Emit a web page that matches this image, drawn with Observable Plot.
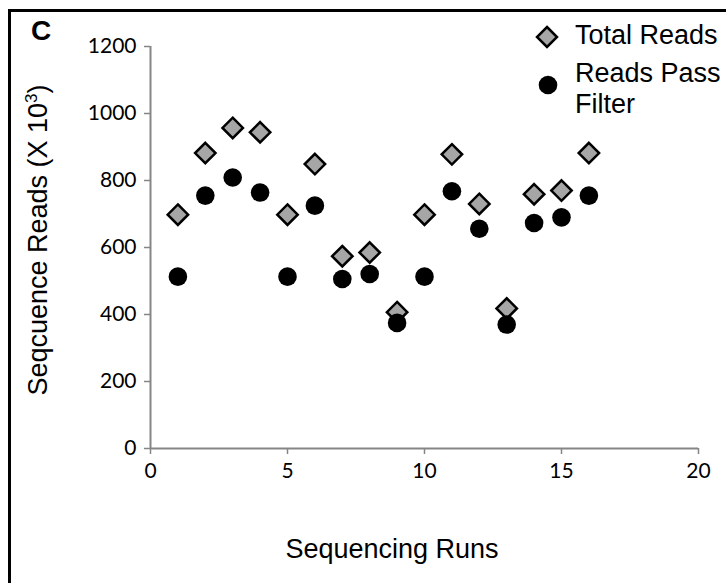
<!DOCTYPE html>
<html>
<head>
<meta charset="utf-8">
<script src="https://cdn.jsdelivr.net/npm/d3@7"></script>
<script src="https://cdn.jsdelivr.net/npm/@observablehq/plot@0.6"></script>
<style>
  html, body { margin: 0; padding: 0; background: #fff; overflow: hidden; }
  #wrap { position: relative; width: 726px; height: 583px; overflow: hidden; }
  #frame { position: absolute; left: 8px; top: 9px; width: 900px; height: 900px;
           border-top: 3px solid #000; border-left: 3px solid #000; }
  .txt { position: absolute; font-family: "Liberation Sans", Arial, sans-serif; color: #000; white-space: nowrap; }
  #chart { position: absolute; left: 0; top: 0; }
</style>
</head>
<body>
<div id="wrap">
  <div id="chart"></div>
  <div id="frame"></div>
  <div class="txt" id="panel" style="left:31px; top:15px; font-size:28px; font-weight:bold;">C</div>
  <div class="txt" id="ylab" style="left:38px; top:240px; font-size:27px; transform: translate(-50%,-50%) rotate(-90deg);">Seqcuence Reads (X 10<sup style="font-size:17px; vertical-align: 10px; line-height:0;">3</sup>)</div>
  <div class="txt" id="xlab" style="left:392px; top:534px; font-size:27px; transform: translateX(-50%);">Sequencing Runs</div>
  <div id="legend"></div>
</div>
<script>
const runs = [1, 2, 3, 4, 5, 6, 7, 8, 9, 10, 11, 12, 13, 14, 15, 16];
const totalReads = [698, 882, 957, 944, 698, 849, 574, 585, 407, 698, 878, 730, 418, 759, 770, 882];
const passFilter = [513, 755, 809, 764, 513, 725, 506, 521, 375, 513, 768, 656, 370, 673, 690, 755];
const xTicks = [0, 5, 10, 15, 20];
const yTicks = [0, 200, 400, 600, 800, 1000, 1200];
const seriesNames = ["Total Reads", "Reads Pass Filter"];

const total = runs.map((r, i) => ({run: r, value: totalReads[i]}));
const pass = runs.map((r, i) => ({run: r, value: passFilter[i]}));

const axisColor = "#868686";
const tickFont = "Lato, 'Open Sans', sans-serif";

const plot = Plot.plot({
  width: 726,
  height: 583,
  marginLeft: 150,
  marginRight: 28,
  marginTop: 46,
  marginBottom: 135,
  style: {background: "transparent", overflow: "visible"},
  x: {domain: [0, 20], ticks: xTicks, label: null},
  y: {domain: [0, 1200], ticks: yTicks, label: null},
  marks: [
    Plot.axisX({ticks: xTicks, tickFormat: d => String(d), tickSize: 6, tickPadding: 9, stroke: axisColor, strokeWidth: 1.5,
      fontSize: 21, fontFamily: tickFont, fill: "#000", label: null}),
    Plot.axisY({ticks: yTicks, tickFormat: d => String(d), tickSize: 6, tickPadding: 8, stroke: axisColor, strokeWidth: 1.5,
      fontSize: 21, fontFamily: tickFont, fill: "#000", label: null}),
    Plot.ruleX([0], {stroke: axisColor, strokeWidth: 2}),
    Plot.ruleY([0], {stroke: axisColor, strokeWidth: 2}),
    Plot.dot(total, {x: "run", y: "value", symbol: "diamond2", r: 9.2, fill: "#a6a6a6", stroke: "#000", strokeWidth: 2.5}),
    Plot.dot(pass, {x: "run", y: "value", symbol: "circle", r: 9.3, fill: "#000", stroke: "none"})
  ]
});
document.getElementById("chart").appendChild(plot);

// legend (HTML overlay)
const legend = document.getElementById("legend");
legend.innerHTML = `
  <svg style="position:absolute; left:533px; top:23px;" width="28" height="28" viewBox="-14 -14 28 28">
    <path d="M0,-10L10,0L0,10L-10,0Z" fill="#a6a6a6" stroke="#000" stroke-width="2.5"/>
  </svg>
  <div class="txt" style="left:575px; top:20px; font-size:27px;">${seriesNames[0]}</div>
  <svg style="position:absolute; left:534px; top:71px;" width="28" height="28" viewBox="-14 -14 28 28">
    <circle r="9.3" fill="#000"/>
  </svg>
  <div class="txt" style="left:575px; top:58px; font-size:27px; line-height:31px; white-space:normal; width:150px;">${seriesNames[1]}</div>
`;
</script>
</body>
</html>
